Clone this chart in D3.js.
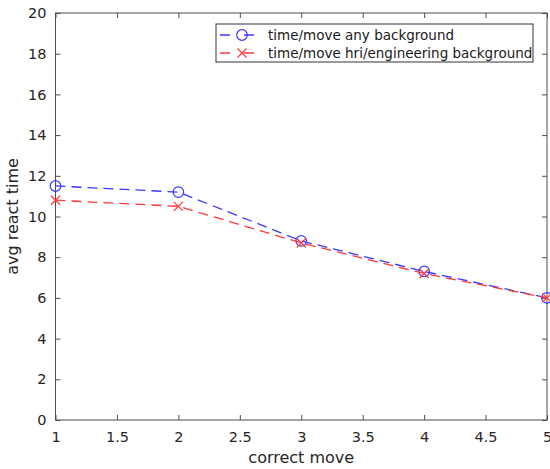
<!DOCTYPE html>
<html>
<head>
<meta charset="utf-8">
<script src="https://cdn.jsdelivr.net/npm/d3@7"></script>
<style>
  html, body { margin: 0; padding: 0; background: #fff; }
  svg { display: block; font-family: "DejaVu Sans", sans-serif; }
</style>
</head>
<body>
<svg id="chart" width="550" height="469"></svg>
<script>
// Average reaction time per correct move, two participant groups
const moves = [1, 2, 3, 4, 5];
const anyBackground = [11.5, 11.2, 8.8, 7.3, 6.0];
const hriBackground = [10.8, 10.5, 8.7, 7.2, 6.0];
const xTicks = [1, 1.5, 2, 2.5, 3, 3.5, 4, 4.5, 5];
const yTicks = [0, 2, 4, 6, 8, 10, 12, 14, 16, 18, 20];
const seriesNames = ["time/move any background", "time/move hri/engineering background"];

const svg = d3.select("#chart");
const margin = { left: 55.5, right: 3, top: 13, bottom: 49 };
const W = 550, H = 469;
const x = d3.scaleLinear().domain([1, 5]).range([margin.left, W - margin.right]);
const y = d3.scaleLinear().domain([0, 20]).range([H - margin.bottom, margin.top]);

const axisColor = "#4d4d4d";
const tickLen = 5;

// frame
svg.append("rect")
  .attr("x", x(1)).attr("y", y(20))
  .attr("width", x(5) - x(1)).attr("height", y(0) - y(20))
  .attr("fill", "none").attr("stroke", axisColor).attr("stroke-width", 1);

// axes with inward ticks, mirrored on the opposite sides
const gx = svg.append("g").attr("transform", `translate(0,${y(0)})`)
  .call(d3.axisBottom(x).tickValues(xTicks).tickSize(-tickLen).tickPadding(12)
    .tickFormat(d => String(d)));
const gxTop = svg.append("g").attr("transform", `translate(0,${y(20)})`)
  .call(d3.axisTop(x).tickValues(xTicks).tickSize(-tickLen).tickFormat(""));
const gy = svg.append("g").attr("transform", `translate(${x(1)},0)`)
  .call(d3.axisLeft(y).tickValues(yTicks).tickSize(-tickLen).tickPadding(9));
const gyRight = svg.append("g").attr("transform", `translate(${x(5)},0)`)
  .call(d3.axisRight(y).tickValues(yTicks).tickSize(-tickLen).tickFormat(""));

[gx, gxTop, gy, gyRight].forEach(g => {
  g.select(".domain").remove();
  g.selectAll(".tick line").attr("stroke", axisColor);
  g.selectAll(".tick text").attr("fill", "#262626").attr("font-size", 14.5)
    .attr("font-family", "DejaVu Sans, sans-serif");
});

// axis titles
svg.append("text")
  .attr("x", (x(1) + x(5)) / 2).attr("y", 463)
  .attr("text-anchor", "middle").attr("font-size", 16).attr("fill", "#262626")
  .text("correct move");
svg.append("text")
  .attr("transform", `translate(18,${(y(0) + y(20)) / 2}) rotate(-90)`)
  .attr("text-anchor", "middle").attr("font-size", 16).attr("fill", "#262626")
  .text("avg react time");

const series = [
  { name: seriesNames[0], values: anyBackground, color: "#3838ff", marker: "circle" },
  { name: seriesNames[1], values: hriBackground, color: "#ff3838", marker: "cross" }
];

const line = d3.line().x((d, i) => x(moves[i])).y(d => y(d));

function drawMarker(g, kind, cx, cy, color) {
  if (kind === "circle") {
    g.append("circle").attr("cx", cx).attr("cy", cy).attr("r", 5.3)
      .attr("fill", "none").attr("stroke", color).attr("stroke-width", 1.2);
  } else {
    const s = 4.5;
    g.append("path")
      .attr("d", `M${cx - s},${cy - s}L${cx + s},${cy + s}M${cx - s},${cy + s}L${cx + s},${cy - s}`)
      .attr("stroke", color).attr("stroke-width", 1.2).attr("fill", "none");
  }
}

const plot = svg.append("g");
series.forEach(s => {
  plot.append("path").datum(s.values)
    .attr("d", line).attr("fill", "none")
    .attr("stroke", s.color).attr("stroke-width", 1.3)
    .attr("stroke-dasharray", "10,6");
  s.values.forEach((v, i) => drawMarker(plot, s.marker, x(moves[i]), y(v), s.color));
});

// legend
const lg = svg.append("g");
const lx = 216, ly = 24, lw = 317, lh = 38;
lg.append("rect").attr("x", lx).attr("y", ly).attr("width", lw).attr("height", lh)
  .attr("fill", "#fff").attr("stroke", "#333").attr("stroke-width", 1);
series.forEach((s, i) => {
  const cy = ly + 11 + i * 18;
  lg.append("line").attr("x1", lx + 4).attr("x2", lx + 48).attr("y1", cy).attr("y2", cy)
    .attr("stroke", s.color).attr("stroke-width", 1.3).attr("stroke-dasharray", "10,14");
  drawMarker(lg, s.marker, lx + 26, cy, s.color);
  lg.append("text").attr("x", lx + 52).attr("y", cy + 4.5)
    .attr("font-size", 13.5).attr("fill", "#1a1a1a").text(s.name);
});
</script>
</body>
</html>
